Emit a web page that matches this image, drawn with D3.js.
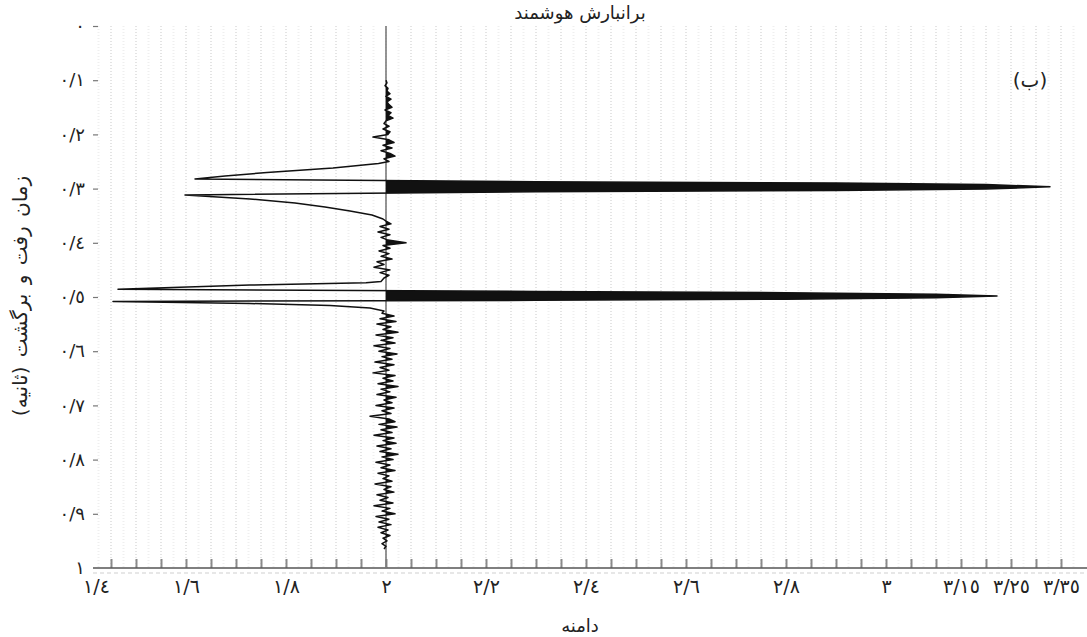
<!DOCTYPE html>
<html><head><meta charset="utf-8">
<script src="https://cdn.jsdelivr.net/npm/d3@7"></script>
<style>
body{margin:0;background:#fff}
svg text{font-family:"DejaVu Sans",sans-serif;fill:#222}
</style>
</head><body>
<svg id="chart" width="1087" height="637"></svg>
<script>
// ---------- data ----------
const titleText = "برانبارش هوشمند";
const panelLabel = "(ب)";
const xTitle = "دامنه";
const yTitle = "زمان رفت و برگشت (ثانیه)";

const yTicks = [0,0.1,0.2,0.3,0.4,0.5,0.6,0.7,0.8,0.9,1];
const yTickLabels = ["٠","٠/١","٠/٢","٠/٣","٠/٤","٠/٥","٠/٦","٠/٧","٠/٨","٠/٩","١"];
const xTicks = [1.4,1.6,1.8,2,2.2,2.4,2.6,2.8,3,3.15,3.25,3.35];
const xTickLabels = ["١/٤","١/٦","١/٨","٢","٢/٢","٢/٤","٢/٦","٢/٨","٣","٣/١٥","٣/٢٥","٣/٣٥"];

const traceCenter = 2;
const sampleStep = 0.005;
// background trace samples (amplitude)
const segAStart = 0.100;
const segA = [2.000,2.002,1.998,2.004,2.002,2.008,2.000,2.010,2.002,2.006,2.012,1.998,2.010,2.004,2.014,2.000,1.996,2.006,1.994,2.008,2.004,1.974,2.006,2.016,1.994,2.012,1.990,2.008,2.018,1.996,2.006];
const segBStart = 0.360;
const segB = [2.000,2.010,1.988,2.006,1.984,2.008,1.990,2.004,2.040,1.994,2.008,1.986,2.006,1.990,2.012,1.982,1.996,1.976,2.008,1.988,2.006,1.996];
const segCStart = 0.530;
const segC = [1.992,2.016,1.988,2.020,1.982,2.010,1.994,2.024,1.980,2.014,
              1.990,2.018,1.976,2.008,1.986,2.022,1.992,2.012,1.978,2.016,
              1.988,2.006,1.974,2.018,1.994,2.014,1.984,2.024,1.990,2.008,
              1.982,2.020,1.996,2.012,1.980,2.016,1.992,2.010,1.968,2.006,
              2.018,1.986,2.022,1.990,2.012,1.976,2.016,1.994,2.020,1.982,
              2.010,1.988,2.024,1.992,2.014,1.980,2.008,1.990,2.018,1.984,
              2.006,1.994,2.012,1.978,2.010,1.996,2.016,1.982,2.004,1.988,
              2.014,1.976,2.008,1.992,2.018,1.980,2.006,1.986,2.010,1.984,
              2.004,1.990,2.008,1.994,2.002,1.992,2.000,1.996];
// reflection events
const event1Times  = [0.2537,0.2620,0.2703,0.2768,0.2823,0.2875,0.2897,0.2924,0.2967,0.3007,0.3035,0.3059,0.3118,0.3192,0.3266,0.3339,0.3413,0.3487,0.3561];
const event1Values = [1.985,1.894,1.762,1.678,1.618,2.3,2.9,3.2,3.328,3.2,2.9,2.3,1.598,1.728,1.818,1.878,1.928,1.972,1.994];
const event2Times  = [0.4714,0.4736,0.4779,0.4821,0.4858,0.4898,0.4921,0.4948,0.4982,0.5015,0.5041,0.5061,0.5083,0.5120,0.5157,0.5203,0.5258];
const event2Values = [1.990,1.960,1.728,1.588,1.464,2.3,2.8,3.1,3.222,3.1,2.8,2.3,1.454,1.728,1.888,1.968,1.996];

// ---------- build trace ----------
const seg = (start, vals) => vals.map((v,i)=>({t:+(start+i*sampleStep).toFixed(4), v}));
const ev = (ts, vs) => ts.map((t,i)=>({t, v:vs[i]}));
const trace = [].concat(seg(segAStart,segA), ev(event1Times,event1Values), seg(segBStart,segB),
                        ev(event2Times,event2Values), seg(segCStart,segC))
                .sort((a,b)=>a.t-b.t);

// ---------- layout ----------
const W = 1087, H = 637;
const plotLeft = 93, plotRight = 1087, plotTop = 26, plotBottom = 568;
const x = d3.scaleLinear().domain([1.4, 3.4]).range([86, 1086]);
const y = d3.scaleLinear().domain([0, 1]).range([plotTop, plotBottom]);

const svg = d3.select("#chart");

// grid (faint dashed verticals)
const gridVals = d3.range(1.425, 3.4, 0.025).filter(v => x(v) > plotLeft + 2);
svg.append("g").selectAll("line").data(gridVals).join("line")
  .attr("x1", d=>x(d)).attr("x2", d=>x(d))
  .attr("y1", plotTop).attr("y2", plotBottom)
  .attr("stroke", (d,i)=> i%2 ? "#e4e4e4" : "#efefef")
  .attr("stroke-width", 2)
  .attr("stroke-dasharray", "1,2");

// dashed line under axis
svg.append("line").attr("x1", plotLeft).attr("x2", plotRight)
  .attr("y1", plotBottom+5).attr("y2", plotBottom+5)
  .attr("stroke", "#cfcfcf").attr("stroke-dasharray", "4,3");

// minor ticks pointing up from x axis
const minorTicks = d3.range(1.45, 3.4, 0.05).filter(v => x(v) > plotLeft + 2);
svg.append("g").attr("transform", `translate(0,${plotBottom})`)
  .call(d3.axisTop(x).tickValues(minorTicks).tickSize(9).tickFormat(""))
  .call(g => g.select(".domain").remove())
  .call(g => g.selectAll("line").attr("stroke", "#8a8a8a").attr("stroke-width", 2));

// x axis line
svg.append("line").attr("x1", plotLeft).attr("x2", plotRight)
  .attr("y1", plotBottom).attr("y2", plotBottom)
  .attr("stroke", "#555").attr("stroke-width", 1.5);

// x tick labels
const xAxis = svg.append("g").attr("transform", `translate(0,${plotBottom})`)
  .call(d3.axisBottom(x).tickValues(xTicks).tickSize(0).tickPadding(12)
        .tickFormat((d,i)=>xTickLabels[i]));
xAxis.select(".domain").remove();
xAxis.selectAll("text").attr("font-size", 19).attr("fill", "#222")
  .attr("font-family", "DejaVu Sans")
  .attr("dx", (d,i)=> i===0 ? 10 : 0);

// y axis
const yAxis = svg.append("g").attr("transform", `translate(${plotLeft+5},0)`)
  .call(d3.axisLeft(y).tickValues(yTicks).tickSize(5).tickPadding(8)
        .tickFormat((d,i)=>yTickLabels[i]));
yAxis.select(".domain").remove();
yAxis.selectAll("line").attr("stroke", "#777").attr("stroke-width", 1.2)
  .attr("opacity", (d,i)=> i===yTicks.length-1 ? 0 : 1);
yAxis.selectAll("text").attr("font-size", 18).attr("fill", "#222")
  .attr("font-family", "DejaVu Sans");

// center (zero amplitude) line
svg.append("line").attr("x1", x(traceCenter)).attr("x2", x(traceCenter))
  .attr("y1", plotTop).attr("y2", plotBottom)
  .attr("stroke", "#7a7a7a").attr("stroke-width", 1.6);

// variable-area fill (positive side)
svg.append("clipPath").attr("id", "posClip").append("rect")
  .attr("x", x(traceCenter)).attr("y", 0).attr("width", W).attr("height", H);
svg.append("path").datum(trace)
  .attr("clip-path", "url(#posClip)")
  .attr("fill", "#111")
  .attr("d", d3.area().y(d=>y(d.t)).x0(x(traceCenter)).x1(d=>x(d.v)));

// wiggle line
svg.append("path").datum(trace)
  .attr("fill", "none").attr("stroke", "#111").attr("stroke-width", 1.5)
  .attr("stroke-linejoin", "round")
  .attr("d", d3.line().y(d=>y(d.t)).x(d=>x(d.v)));

// texts
svg.append("text").attr("x", 580).attr("y", 19).attr("text-anchor", "middle")
  .attr("direction", "rtl").attr("font-size", 18).text(titleText);
svg.append("text").attr("x", 1030).attr("y", 87).attr("text-anchor", "middle")
  .attr("direction", "rtl").attr("font-size", 20).text(panelLabel);
svg.append("text").attr("x", 580).attr("y", 632).attr("text-anchor", "middle")
  .attr("direction", "rtl").attr("font-size", 18).text(xTitle);
svg.append("text").attr("transform", "translate(27,296) rotate(-90)")
  .attr("text-anchor", "middle").attr("direction", "rtl")
  .attr("font-size", 20).attr("word-spacing", 3).text(yTitle);
</script>
</body></html>
